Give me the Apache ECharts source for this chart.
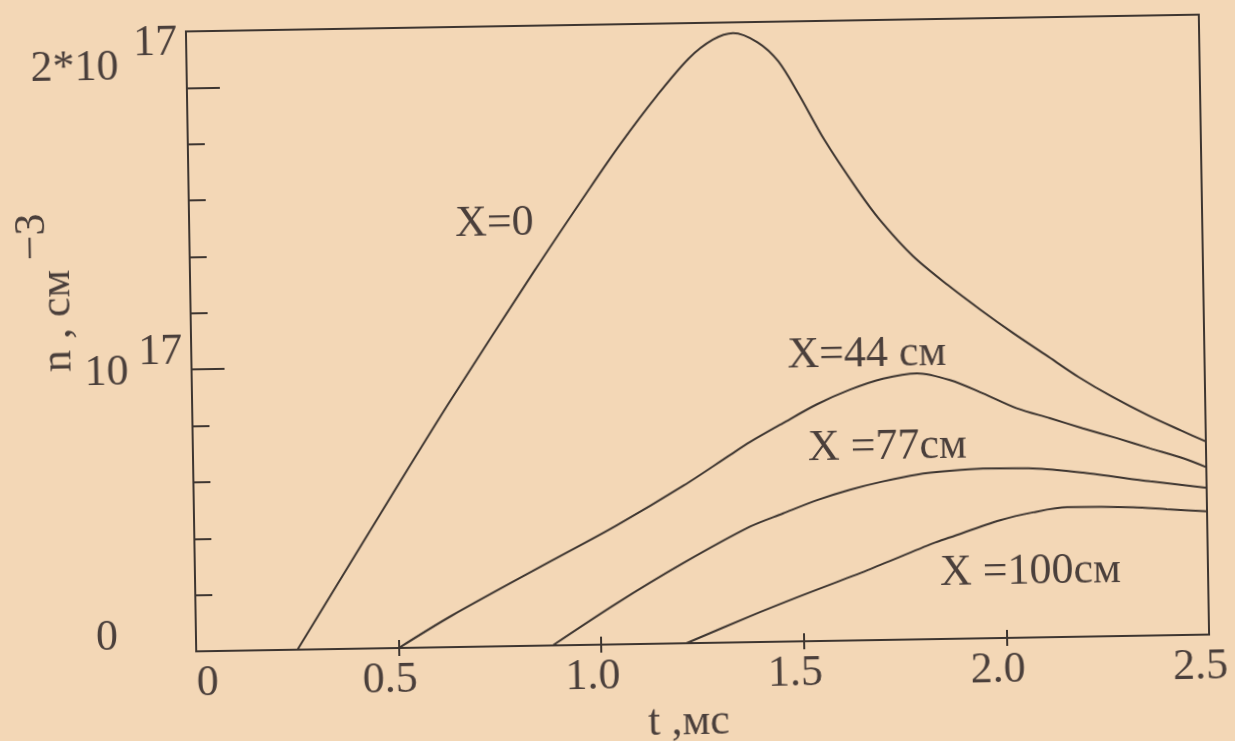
<!DOCTYPE html>
<html><head><meta charset="utf-8">
<script src="https://cdn.jsdelivr.net/npm/echarts@6/dist/echarts.min.js"></script>
<style>
html,body{margin:0;padding:0;background:#f3d7b6;overflow:hidden;width:1235px;height:741px;}
#wrap{position:absolute;left:0;top:0;width:1235px;height:741px;transform:rotate(-0.95deg);transform-origin:697.5px 332.75px;}
#chart{width:1235px;height:741px;}
</style></head><body><div id="wrap"><div id="chart"></div></div>
<script>
// ---- data (n in units of 1e17 cm^-3, t in ms) ----
const xTickValues = [0, 0.5, 1, 1.5, 2, 2.5];
const xTickLabels = ['0', '0.5', '1.0', '1.5', '2.0', '2.5'];
const xInnerTicks = [0.5, 1, 1.5, 2];
const yTickValues = [0, 1, 2];
const yTickBase = ['0', '10', '2*10'];
const yTickExp = ['', '17', '17'];
const yMinorTicks = [0, 0.2, 0.4, 0.6, 0.8, 1.0, 1.2, 1.4, 1.6, 1.8, 2.0];
const seriesNames = ['X=0', 'X=44 см', 'X =77см', 'X =100см'];
const yTitle = 'n , см';
const yTitleExp = '−3';

const t0 = [0.25, 0.51, 0.64, 0.85, 0.99, 1.07, 1.16, 1.24, 1.30, 1.35, 1.41, 1.46, 1.51, 1.57, 1.65, 1.705, 1.785, 1.87, 1.95, 2.03, 2.11, 2.19, 2.27, 2.36, 2.44, 2.5];
const n0 = [0, 0.59, 0.88, 1.33, 1.62, 1.78, 1.945, 2.075, 2.14, 2.162, 2.128, 2.06, 1.94, 1.78, 1.60, 1.49, 1.36, 1.255, 1.165, 1.08, 1.0, 0.92, 0.85, 0.78, 0.725, 0.685];

const t44 = [0.50, 0.63, 0.88, 1.04, 1.21, 1.325, 1.375, 1.457, 1.542, 1.624, 1.706, 1.79, 1.871, 1.952, 2.035, 2.116, 2.197, 2.281, 2.362, 2.443, 2.5];
const n44 = [0, 0.11, 0.30, 0.42, 0.56, 0.665, 0.71, 0.775, 0.84, 0.89, 0.927, 0.944, 0.918, 0.869, 0.814, 0.777, 0.739, 0.702, 0.664, 0.627, 0.594];

const t77 = [0.88, 1.04, 1.205, 1.372, 1.454, 1.538, 1.62, 1.70, 1.786, 1.867, 1.949, 2.072, 2.196, 2.361, 2.5];
const n77 = [0, 0.146, 0.284, 0.41, 0.455, 0.50, 0.535, 0.562, 0.585, 0.596, 0.602, 0.600, 0.582, 0.547, 0.521];

const t100 = [1.21, 1.368, 1.492, 1.659, 1.823, 1.865, 1.989, 2.071, 2.155, 2.318, 2.401, 2.5];
const n100 = [0, 0.092, 0.16, 0.248, 0.34, 0.36, 0.418, 0.444, 0.46, 0.456, 0.447, 0.437];

// ---- styling ----
const ink = '#3d3530';
const txt = '#4a3f3b';
const FF = '"Liberation Serif", "Times New Roman", serif';
const FS = 44;

function pairs(ts, ns) { return ts.map((t, i) => [t, ns[i]]); }
const seriesData = [pairs(t0, n0), pairs(t44, n44), pairs(t77, n77), pairs(t100, n100)];

// annotation placement (pixel positions, left / middle)
const labelPos = [[457, 220], [787, 357.5], [806, 450], [936, 577]];

const chart = echarts.init(document.getElementById('chart'), null, {renderer: 'canvas'});
const rs = (extra) => Object.assign({fontFamily: FF, fontSize: FS, color: txt, lineHeight: 30}, extra);

chart.setOption({
  animation: false,
  backgroundColor: 'transparent',
  textStyle: {fontFamily: FF, color: txt},
  grid: {left: 191, top: 23, width: 1013, height: 620, show: true, borderColor: ink, borderWidth: 2,
         backgroundColor: 'transparent', containLabel: false, outerBoundsMode: 'none'},
  xAxis: [{
    type: 'value', min: 0, max: 2.5, interval: 0.5, position: 'bottom',
    axisLine: {show: true, lineStyle: {color: ink, width: 2}},
    axisTick: {show: true, inside: true, length: 8, customValues: xInnerTicks, lineStyle: {color: ink, width: 2}},
    axisLabel: {show: true, margin: 10, fontFamily: FF, fontSize: FS, lineHeight: 44, color: txt,
      padding: [0, 18, 0, 0], alignMinLabel: 'left',
      formatter: function (v) { const i = xTickValues.findIndex(x => Math.abs(x - v) < 1e-6); return i < 0 ? '' : xTickLabels[i]; }},
    splitLine: {show: false},
    name: 't ,мс', nameLocation: 'middle', nameGap: 57, nameMoveOverlap: false,
    nameTextStyle: {fontFamily: FF, fontSize: FS, lineHeight: 44, color: txt, padding: [0, 30, 0, 0]}
  }, {
    type: 'value', min: 0, max: 2.5, interval: 0.5, position: 'bottom',
    axisLine: {show: false},
    axisTick: {show: true, inside: false, length: 8, customValues: xInnerTicks, lineStyle: {color: ink, width: 2}},
    axisLabel: {show: false}, splitLine: {show: false}
  }],
  yAxis: [{
    type: 'value', min: 0, max: 2.2, interval: 0.2, position: 'left',
    axisLine: {show: true, lineStyle: {color: ink, width: 2}},
    axisTick: {show: true, inside: true, length: 17, customValues: yMinorTicks, lineStyle: {color: ink, width: 2}},
    axisLabel: {show: true, margin: 9, customValues: yTickValues, fontFamily: FF, fontSize: FS, color: txt,
      formatter: function (v) {
        const i = yTickValues.findIndex(x => Math.abs(x - v) < 1e-6);
        if (i < 0) return '';
        if (i === 0) return '{z|' + yTickBase[0] + '}';
        return '{b' + i + '|' + yTickBase[i] + '}{s' + i + '|' + yTickExp[i] + '}';
      },
      rich: {
        z: rs({padding: [0, 69, 29, 0]}),
        b1: rs({padding: [4, 0, 0, 0]}),
        s1: rs({padding: [0, 0, 36, 10]}),
        b2: rs({padding: [0, 0, 41, 0]}),
        s2: rs({padding: [0, 0, 90, 15]})
      }},
    splitLine: {show: false}
  }, {
    type: 'value', min: 0, max: 2.2, interval: 0.2, position: 'left',
    axisLine: {show: false},
    axisTick: {show: true, inside: true, length: 33, customValues: yTickValues, lineStyle: {color: ink, width: 2}},
    axisLabel: {show: false}, splitLine: {show: false}
  }],
  series: seriesData.map((d, i) => ({
    name: seriesNames[i], type: 'line', data: d, xAxisIndex: 0, yAxisIndex: 0,
    smooth: 0.3, showSymbol: false, symbol: 'none',
    lineStyle: {color: ink, width: 2}, emphasis: {disabled: true}
  })),
  graphic: seriesNames.map((s, i) => ({
    type: 'text', x: labelPos[i][0], y: labelPos[i][1], silent: true,
    style: {text: s, font: FS + 'px ' + FF, fill: txt, align: 'left', verticalAlign: 'middle'}
  })).concat([{
    type: 'text', x: 46.5, y: 282, rotation: Math.PI / 2, silent: true,
    style: {
      text: '{a|' + yTitle + '}{s|' + yTitleExp + '}',
      font: FS + 'px ' + FF, fill: txt, align: 'center', verticalAlign: 'middle',
      rich: {
        a: {font: FS + 'px ' + FF, fill: txt, lineHeight: 30, padding: [24, 0, 0, 0]},
        s: {font: FS + 'px ' + FF, fill: txt, lineHeight: 30, padding: [0, 0, 24, 10]}
      }
    }
  }])
});
</script>
</body></html>
